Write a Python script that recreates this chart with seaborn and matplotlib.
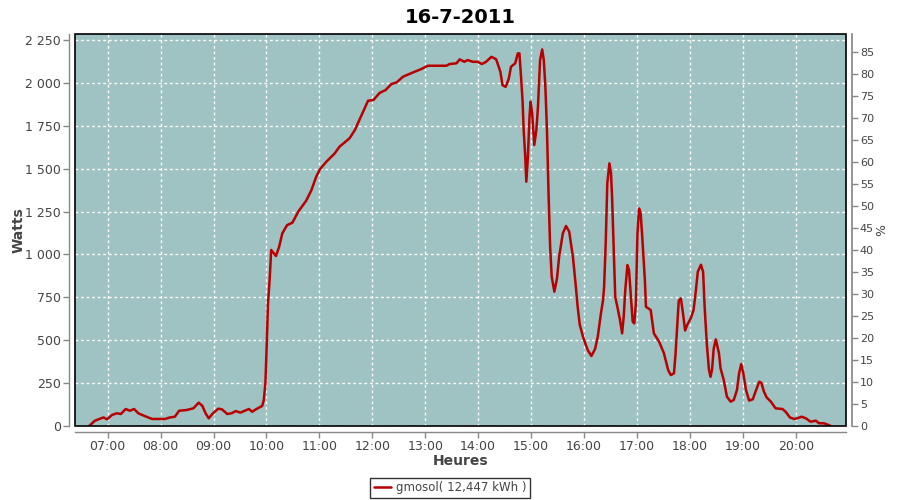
import numpy as np
import matplotlib
matplotlib.use("Agg")
import matplotlib.pyplot as plt
from matplotlib.ticker import FuncFormatter, FixedLocator
from matplotlib.patches import Rectangle
import seaborn as sns

# Data (decimal hours, watts)
HOURS = [6.65, 6.76, 6.92, 6.99, 7.08, 7.17, 7.25, 7.34, 7.42, 7.50, 7.58, 7.70, 7.84, 7.99,
         8.08, 8.18, 8.27, 8.35, 8.49, 8.62, 8.72, 8.79, 8.85, 8.91, 8.99, 9.09, 9.16, 9.26,
         9.34, 9.42, 9.51, 9.59, 9.67, 9.73, 9.81, 9.92, 9.95, 9.98, 10.00, 10.03, 10.06,
         10.09, 10.13, 10.18, 10.24, 10.30, 10.39, 10.49, 10.60, 10.75, 10.85, 10.94, 11.01,
         11.13, 11.29, 11.38, 11.57, 11.67, 11.79, 11.92, 12.02, 12.14, 12.25, 12.36, 12.46,
         12.58, 12.77, 12.92, 13.05, 13.40, 13.46, 13.59, 13.65, 13.74, 13.80, 13.90, 13.99,
         14.07, 14.15, 14.25, 14.34, 14.42, 14.46, 14.52, 14.58, 14.62, 14.70, 14.75, 14.78,
         14.81, 14.84, 14.86, 14.89, 14.91, 14.94, 14.97, 14.99, 15.02, 15.06, 15.10, 15.13,
         15.17, 15.21, 15.24, 15.27, 15.30, 15.33, 15.36, 15.39, 15.44, 15.49, 15.53, 15.60,
         15.66, 15.72, 15.79, 15.84, 15.88, 15.92, 15.99, 16.07, 16.14, 16.21, 16.26, 16.32,
         16.36, 16.38, 16.41, 16.44, 16.48, 16.51, 16.53, 16.56, 16.59, 16.63, 16.68, 16.72,
         16.75, 16.78, 16.82, 16.85, 16.89, 16.92, 16.95, 16.98, 17.01, 17.04, 17.07, 17.10,
         17.15, 17.17, 17.26, 17.32, 17.42, 17.51, 17.59, 17.64, 17.70, 17.73, 17.76, 17.79,
         17.83, 17.87, 17.91, 17.95, 18.02, 18.07, 18.11, 18.15, 18.21, 18.25, 18.28, 18.32,
         18.36, 18.39, 18.42, 18.45, 18.49, 18.55, 18.58, 18.64, 18.70, 18.77, 18.83, 18.89,
         18.93, 18.97, 19.01, 19.06, 19.12, 19.19, 19.24, 19.31, 19.35, 19.40, 19.45, 19.53,
         19.62, 19.75, 19.81, 19.89, 19.97, 20.03, 20.11, 20.19, 20.28, 20.38, 20.44, 20.53,
         20.62, 20.66]
WATTS = [0, 31, 50, 39, 64, 74, 70, 99, 89, 99, 74, 58, 41, 41,
         41, 50, 54, 89, 93, 103, 136, 117, 74, 45, 74, 101, 97, 70,
         74, 87, 78, 89, 99, 83, 99, 117, 152, 249, 424, 715, 851,
         1026, 1010, 991, 1045, 1123, 1171, 1185, 1249, 1313, 1375, 1453, 1496,
         1540, 1589, 1628, 1677, 1725, 1807, 1896, 1900, 1942, 1958, 1993, 2003,
         2036, 2061, 2080, 2100, 2100, 2110, 2114, 2137, 2123, 2133, 2123, 2123,
         2110, 2123, 2152, 2138, 2065, 1987, 1977, 2026, 2094, 2114, 2172, 2172,
         2036, 1890, 1725, 1569, 1424, 1569, 1802, 1890, 1822, 1638, 1725, 1861,
         2133, 2195, 2133, 1977, 1725, 1356, 1045, 870, 783, 861, 987, 1123,
         1166, 1133, 987, 832, 695, 590, 511, 443, 408, 450, 520, 657,
         734, 812, 1065, 1414, 1531, 1473, 1336, 1045, 753, 695, 618, 540,
         637, 793, 938, 909, 734, 608, 598, 715, 1123, 1268, 1240, 1103,
         851, 695, 676, 540, 491, 424, 326, 297, 307, 424, 579, 730,
         744, 657, 557, 589, 630, 676, 780, 899, 940, 899, 690, 480,
         330, 287, 330, 450, 505, 424, 336, 268, 171, 142, 152, 210,
         307, 361, 307, 210, 148, 156, 200, 258, 252, 200, 167, 142,
         103, 99, 83, 50, 41, 45, 54, 45, 25, 31, 16, 16,
         6, 0]

HOUR_TICKS = list(range(7, 21))
WATT_TICKS = [0, 250, 500, 750, 1000, 1250, 1500, 1750, 2000, 2250]
PCT_TICKS = list(range(0, 90, 5))

TITLE = "16-7-2011"
LEGEND_LABEL = "gmosol( 12,447 kWh )"

sns.set_theme(style="darkgrid", rc={
    "axes.facecolor": "#9EC3C2",
    "grid.color": "white",
    "grid.linestyle": (0, (2, 2)),
    "grid.linewidth": 1.0,
})
plt.rcParams["font.family"] = ["DejaVu Sans"]

TEXT = "#444444"
AXIS = "#888888"

fig = plt.figure(figsize=(9, 5), dpi=100)
ax = fig.add_axes([75 / 900, 1 - 426 / 500, 771 / 900, 392 / 500])

sns.lineplot(x=HOURS, y=WATTS, ax=ax, color="#B80000", linewidth=1.8,
             label=LEGEND_LABEL, legend=False)

ax.set_xlim(6.383, 20.95)
ax.set_ylim(0, 2285)
ax.xaxis.set_major_locator(FixedLocator(HOUR_TICKS))
ax.xaxis.set_major_formatter(FuncFormatter(lambda v, p: "%02d:00" % int(round(v))))
ax.yaxis.set_major_locator(FixedLocator(WATT_TICKS))
ax.yaxis.set_major_formatter(FuncFormatter(lambda v, p: "{:,}".format(int(v)).replace(",", " ")))

for side in ["left", "bottom"]:
    ax.spines[side].set_visible(True)
    ax.spines[side].set_position(("outward", 4))
    ax.spines[side].set_color(AXIS)
    ax.spines[side].set_linewidth(1.0)
ax.spines["top"].set_visible(False)
ax.spines["right"].set_visible(False)
ax.tick_params(axis="both", colors=AXIS, labelcolor=TEXT, labelsize=9,
               length=4, width=1, direction="out", left=True, bottom=True, pad=2)

ax.set_xlabel("Heures", fontsize=10, color=TEXT, fontweight="bold")
ax.xaxis.set_label_coords(0.5, -(454 - 426) / 392)
ax.set_ylabel("Watts", fontsize=10, color=TEXT, fontweight="bold")
ax.yaxis.set_label_coords((26 - 75) / 771, 0.5)
ax.set_title(TITLE, fontsize=14, fontweight="bold", color="black", pad=8)

# black frame round the plot area
ax.add_patch(Rectangle((0, 0), 1, 1, transform=ax.transAxes, fill=False,
                       edgecolor="black", linewidth=1.2, clip_on=False, zorder=5))

ax2 = ax.twinx()
ax2.set_ylim(0, 89.2)
ax2.yaxis.set_major_locator(FixedLocator(PCT_TICKS))
ax2.grid(False)
for side in ["left", "top", "bottom"]:
    ax2.spines[side].set_visible(False)
ax2.spines["right"].set_visible(True)
ax2.spines["right"].set_position(("outward", 4))
ax2.spines["right"].set_color(AXIS)
ax2.tick_params(axis="y", colors=AXIS, labelcolor=TEXT, labelsize=8,
                length=4, width=1, direction="out", right=True, pad=2)
ax2.set_ylabel("%", fontsize=9, color=TEXT)
ax2.yaxis.set_label_coords((875 - 75) / 771, 0.5)

handles, labels = ax.get_legend_handles_labels()
leg = fig.legend(handles, labels, loc="center", bbox_to_anchor=(0.5, 1 - 488 / 500),
                 fontsize=8.5, frameon=True, fancybox=False, handlelength=1.5,
                 borderpad=0.3, handletextpad=0.4, borderaxespad=0)
leg.get_frame().set_edgecolor("black")
leg.get_frame().set_linewidth(1.0)
leg.get_frame().set_facecolor("white")
for t in leg.get_texts():
    t.set_color(TEXT)

fig.savefig("out.png", dpi=100, facecolor="white")
